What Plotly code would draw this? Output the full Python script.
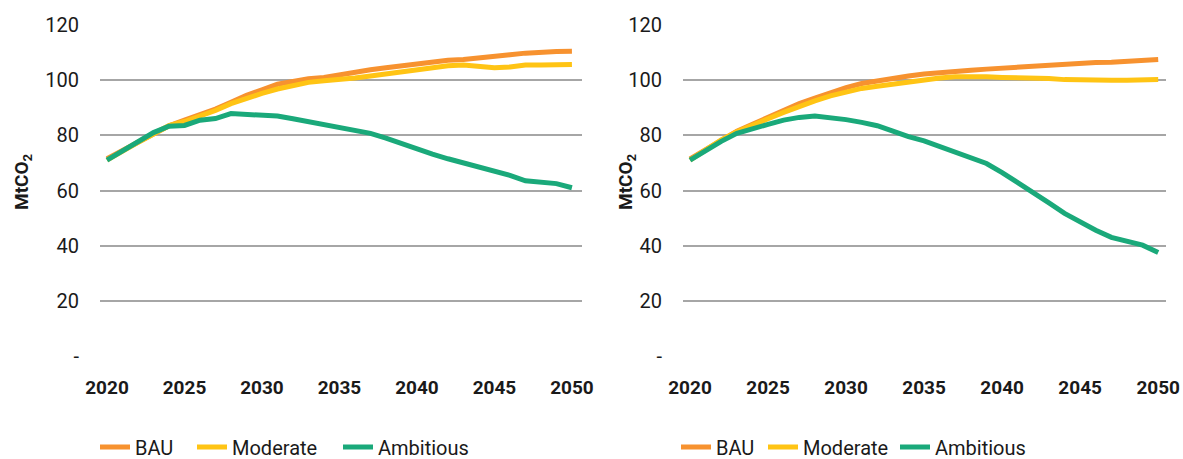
import plotly.graph_objects as go

years = list(range(2020, 2051))

# left panel
bau_a = [71.5, 74.5, 77.5, 80.5, 83.5, 85.5, 87.5, 89.5, 92, 94.5, 96.5, 98.5, 99.5, 100.5, 101, 102,
         103, 103.8, 104.5, 105.2, 106, 106.6, 107.2, 107.5, 108.2, 108.8, 109.2, 109.8, 110.2, 110.4, 110.5]
mod_a = [71, 74.5, 77.5, 80.5, 83.5, 85, 87, 89, 91.5, 93.5, 95.2, 96.8, 98.2, 99.2, 99.8, 100.2,
         100.8, 101.5, 102.3, 103, 103.8, 104.5, 105.2, 105.5, 105.2, 104.5, 104.8, 105.5, 105.5, 105.6, 105.7]
amb_a = [71, 74.5, 78, 81, 83.3, 83.6, 85.5, 86.1, 87.9, 87.6, 87.4, 87, 86, 85, 83.8, 83,
         82, 80.7, 79, 77, 75, 73.2, 71.5, 70, 68.5, 67, 65.5, 63.5, 63, 62.5, 61]

# right panel
bau_b = [71.5, 75, 78.5, 81.5, 84, 86.5, 89, 91.5, 93.5, 95.5, 97.3, 98.8, 99.8, 100.6, 101.5, 102.2,
         102.8, 103.2, 103.6, 104, 104.4, 104.8, 105.2, 105.5, 106, 106.3, 106.4, 106.5, 106.7, 107, 107.5]
mod_b = [71, 74.8, 78.3, 81.3, 83.8, 86, 88.3, 90.5, 92.5, 94.3, 95.8, 97, 97.8, 98.6, 99.2, 99.8,
         100.8, 101.2, 101.3, 101.2, 101, 101, 101, 100.6, 100.2, 100, 100.2, 100, 100, 100.1, 100.2]
amb_b = [71, 74.5, 77.8, 80.7, 82.5, 84, 85.5, 86.5, 87, 86.5, 85.7, 84.7, 83.5, 81.5, 79.5, 78,
         76, 74, 71.8, 69.8, 66.5, 63, 59.5, 55.5, 51.7, 48.5, 45.6, 43, 41.8, 40.2, 37.5]

series = ["BAU", "Moderate", "Ambitious"]
colors = ["#F7922F", "#FFC414", "#1AA97A"]
y_ticks = [0, 20, 40, 60, 80, 100, 120]
y_text = ["-", "20", "40", "60", "80", "100", "120"]
x_ticks = [2020, 2025, 2030, 2035, 2040, 2045, 2050]

W, H = 1183, 459
# left edge (px) of each legend entry, one legend per trace
leg_x = [[95, 192, 338], [676, 763, 895]]

fig = go.Figure()
panels = [(bau_a, mod_a, amb_a), (bau_b, mod_b, amb_b)]
legends = {}
n = 0
for p, data in enumerate(panels):
    ax = "" if p == 0 else "2"
    for i, (name, vals, col) in enumerate(zip(series, data, colors)):
        n += 1
        lname = "legend" if n == 1 else "legend%d" % n
        fig.add_trace(go.Scatter(x=years, y=vals, mode="lines", name=name,
                                 line=dict(color=col, width=5),
                                 xaxis="x" + ax, yaxis="y" + ax,
                                 legend=lname))
        legends[lname] = dict(orientation="h", x=leg_x[p][i] / W, y=(459 - 447) / H,
                              yanchor="middle", xanchor="left", font=dict(size=20),
                              itemwidth=30, bgcolor="rgba(0,0,0,0)")

font = dict(family="Roboto, Liberation Sans, sans-serif", size=20, color="#1a1a1a")
ydom = [(459 - 356) / H, (459 - 25) / H]

yax = dict(range=[0, 120], tickvals=y_ticks, ticktext=y_text, showgrid=True,
           gridcolor="#A6A6A6", gridwidth=1.5, zeroline=False, showline=False,
           ticks="", ticklabelstandoff=20, domain=ydom, automargin=False,
           ticklabeloverflow="allow", tickfont=dict(size=20))
xax = dict(tickvals=x_ticks, showgrid=False, zeroline=False, showline=False, ticks="",
           tickfont=dict(size=19, weight="bold"), automargin=False,
           ticklabeloverflow="allow", ticklabelstandoff=18)

fig.update_layout(
    width=W, height=H,
    margin=dict(l=0, r=0, t=0, b=0, autoexpand=False),
    plot_bgcolor="white", paper_bgcolor="white",
    font=font,
    showlegend=True,
    xaxis=dict(xax, domain=[100 / W, 582 / W], range=[2019.55, 2050.65], anchor="y"),
    yaxis=dict(yax, anchor="x"),
    xaxis2=dict(xax, domain=[683 / W, 1166 / W], range=[2019.55, 2050.5], anchor="y2"),
    yaxis2=dict(yax, anchor="x2"),
    **legends,
)

for xp in [22 / W, 626 / W]:
    fig.add_annotation(text="<b>MtCO<sub>2</sub></b>", xref="paper", yref="paper",
                       x=xp, y=(459 - 182) / H, xanchor="center", yanchor="middle",
                       textangle=-90, showarrow=False, font=dict(size=19))

# page body has a default 8px margin; remove it so the figure fills the window
fig.write_html("out.html", config={"displayModeBar": False},
               post_script="document.documentElement.style.margin='0';"
                           "document.body.style.margin='0';"
                           "document.body.style.overflow='hidden';")
